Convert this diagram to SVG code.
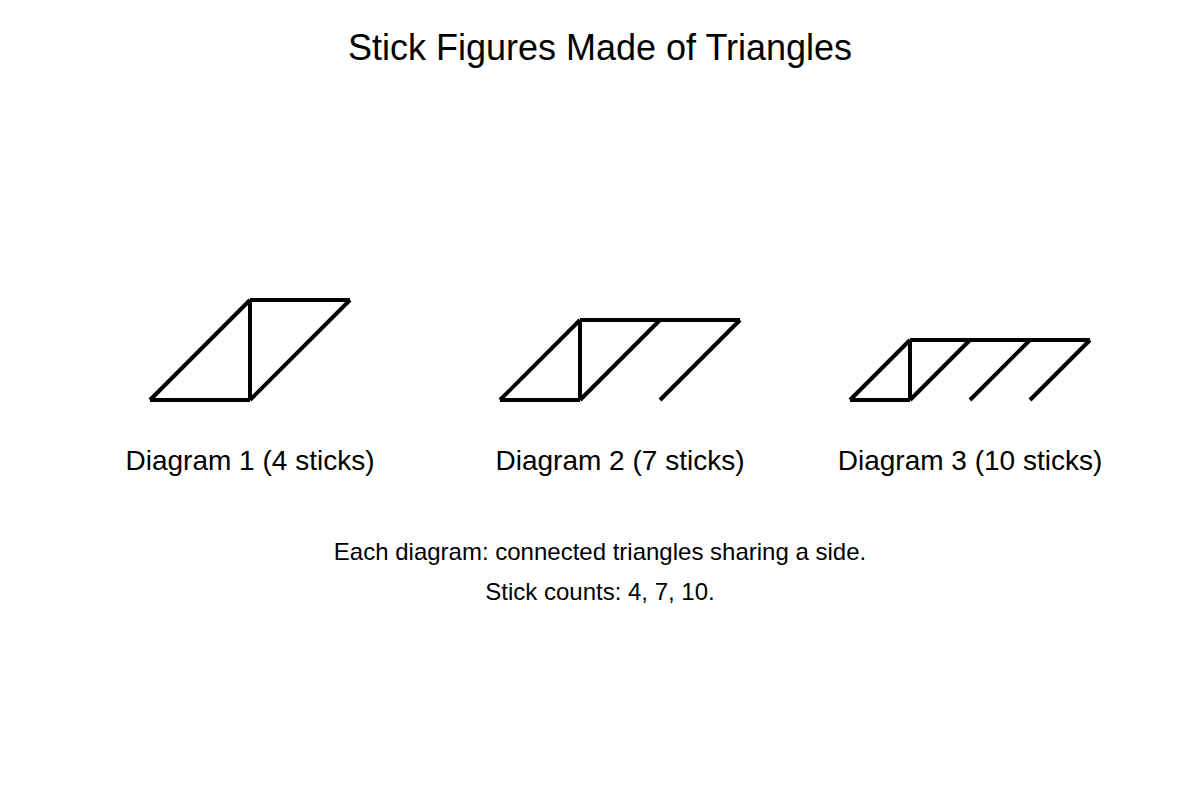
<svg xmlns="http://www.w3.org/2000/svg" width="1200" height="800" viewBox="0 0 1200 800">
<style>
.t{font-family:"Liberation Sans",Arial,sans-serif;fill:#000;text-anchor:middle}
.s{stroke:#000;stroke-width:4;fill:none;stroke-linecap:butt}
</style>
<rect width="1200" height="800" fill="#fff"/>
<text class="t" x="600" y="60" font-size="36">Stick Figures Made of Triangles</text>
<g id="connectors">
<g id="diagram1" class="s">
<line x1="150" y1="400" x2="250" y2="300"/>
<line x1="150" y1="400" x2="250" y2="400"/>
<line x1="250" y1="300" x2="250" y2="400"/>
<line x1="250" y1="300" x2="350" y2="300"/>
<line x1="250" y1="400" x2="350" y2="300"/>
</g>
<g id="diagram2" class="s">
<line x1="500" y1="400" x2="580" y2="320"/>
<line x1="500" y1="400" x2="580" y2="400"/>
<line x1="580" y1="320" x2="580" y2="400"/>
<line x1="580" y1="320" x2="740" y2="320"/>
<line x1="580" y1="400" x2="660" y2="320"/>
<line x1="660" y1="400" x2="740" y2="320"/>
</g>
<g id="diagram3" class="s">
<line x1="850" y1="400" x2="910" y2="340"/>
<line x1="850" y1="400" x2="910" y2="400"/>
<line x1="910" y1="340" x2="910" y2="400"/>
<line x1="910" y1="340" x2="1090" y2="340"/>
<line x1="910" y1="400" x2="970" y2="340"/>
<line x1="970" y1="400" x2="1030" y2="340"/>
<line x1="1030" y1="400" x2="1090" y2="340"/>
</g>
</g>
<g id="label1"><text class="t" x="250" y="470" font-size="28">Diagram 1 (4 sticks)</text></g>
<g id="label2"><text class="t" x="620" y="470" font-size="28">Diagram 2 (7 sticks)</text></g>
<g id="label3"><text class="t" x="970" y="470" font-size="28">Diagram 3 (10 sticks)</text></g>
<g id="notes">
<text class="t" x="600" y="560" font-size="24">Each diagram: connected triangles sharing a side.</text>
<text class="t" x="600" y="600" font-size="24">Stick counts: 4, 7, 10.</text>
</g>
</svg>
